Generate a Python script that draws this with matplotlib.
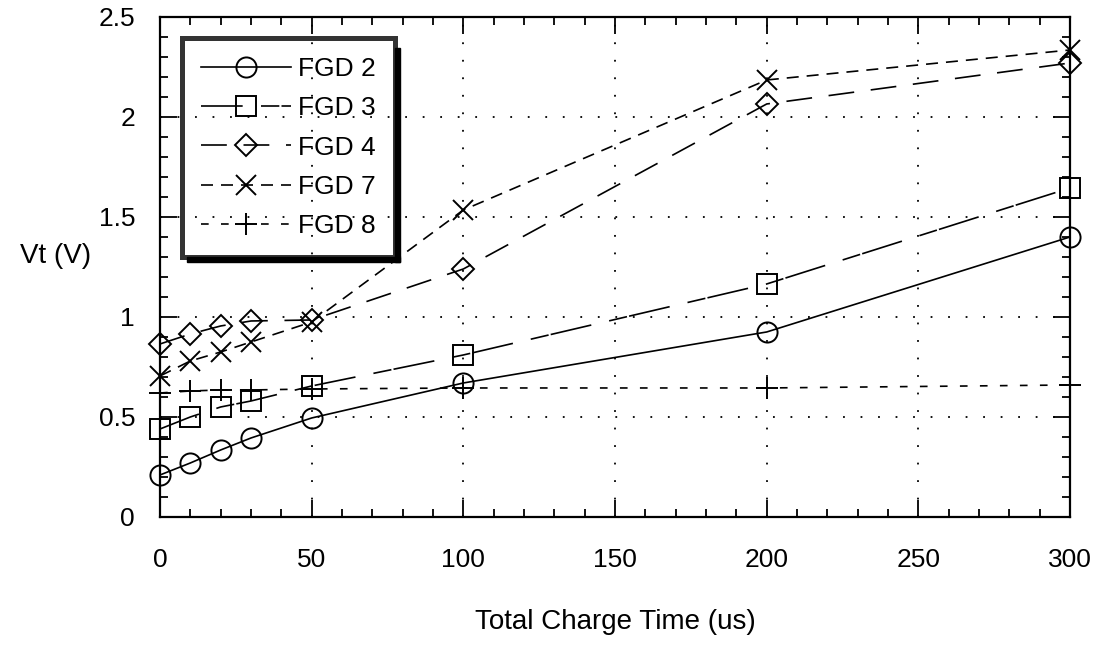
import numpy as np
import matplotlib
matplotlib.use("Agg")
import matplotlib.pyplot as plt
from matplotlib.patches import Rectangle
from matplotlib.ticker import MultipleLocator


# Charge time (us) and threshold voltage (V) for each device

charge_time = [0, 10, 20, 30, 50, 100, 200, 300]

fgd2 = [0.21, 0.27, 0.335, 0.395, 0.495, 0.67, 0.925, 1.40]
fgd3 = [0.44, 0.50, 0.55, 0.58, 0.655, 0.81, 1.165, 1.645]
fgd4 = [0.865, 0.915, 0.955, 0.98, 0.985, 1.24, 2.065, 2.27]
fgd7 = [0.705, 0.78, 0.825, 0.875, 0.975, 1.535, 2.185, 2.335]
fgd8 = [0.62, 0.63, 0.635, 0.635, 0.64, 0.645, 0.645, 0.66]

labels = ["FGD 2", "FGD 3", "FGD 4", "FGD 7", "FGD 8"]


plt.rcParams["font.family"] = ["Liberation Sans", "DejaVu Sans"]

fig = plt.figure(figsize=(11.02, 6.48), dpi=100)
ax = fig.add_axes([0.1452, 0.2022, 0.8258, 0.7716])

lw = 1.2
common = dict(color="black", linewidth=lw, markerfacecolor="none",
              markeredgecolor="black", markeredgewidth=1.4, clip_on=False)

ax.plot(charge_time, fgd2, marker="o", linestyle="-", markersize=14.5, label=labels[0], **common)
ax.plot(charge_time, fgd3, marker="s", linestyle=(0, (25, 11, 11, 1.3)), markersize=15, label=labels[1], **common)
ax.plot(charge_time, fgd4, marker="D", linestyle=(0, (15.5, 10)), markersize=11, label=labels[2], **common)
ax.plot(charge_time, fgd7, marker="x", linestyle=(0, (7.2, 4.8)), markersize=15, label=labels[3], **common)
ax.plot(charge_time, fgd8, marker="+", linestyle=(0, (4.6, 7.4)), markersize=16, label=labels[4], **common)

ax.set_xlim(0, 300)
ax.set_ylim(0, 2.5)
ax.xaxis.set_major_locator(MultipleLocator(50))
ax.xaxis.set_minor_locator(MultipleLocator(10))
ax.yaxis.set_major_locator(MultipleLocator(0.5))
ax.yaxis.set_minor_locator(MultipleLocator(0.1))
ax.yaxis.set_major_formatter(plt.FuncFormatter(lambda v, p: f"{v:g}"))

ax.tick_params(which="both", direction="in", top=True, right=True, width=1.3,
               labelsize=19, colors="black")
ax.tick_params(axis="x", which="both", pad=22)
ax.tick_params(axis="y", which="both", pad=18)
ax.tick_params(which="major", length=12)
ax.tick_params(which="minor", length=6)

for s in ax.spines.values():
    s.set_linewidth(1.6)

ax.grid(True, which="major", color="black", linestyle=(0, (1, 8.7)), linewidth=1.3)

ax.set_xlabel("Total Charge Time (us)", fontsize=20, labelpad=27)
ax.set_ylabel("Vt (V)", fontsize=20, rotation=0)
ax.yaxis.set_label_coords(-0.115, 0.495)

leg = ax.legend(loc="upper left", bbox_to_anchor=(0.024, 0.958), fontsize=19,
                frameon=True, fancybox=False, facecolor="none", edgecolor="black",
                handlelength=3.4, handletextpad=0.3, borderpad=0.72,
                labelspacing=0.58, borderaxespad=0)
leg.get_frame().set_linewidth(3.6)

# offset black shadow on the right and bottom of the legend box
fig.canvas.draw()
bb = leg.get_frame().get_window_extent()
off = 5
fig.patches.append(Rectangle((bb.x1, bb.y0 - off), off, bb.height - off,
                             transform=None, color="black", zorder=5))
fig.patches.append(Rectangle((bb.x0 + off, bb.y0 - off), bb.width, off,
                             transform=None, color="black", zorder=5))

fig.savefig("out.png", dpi=100)
